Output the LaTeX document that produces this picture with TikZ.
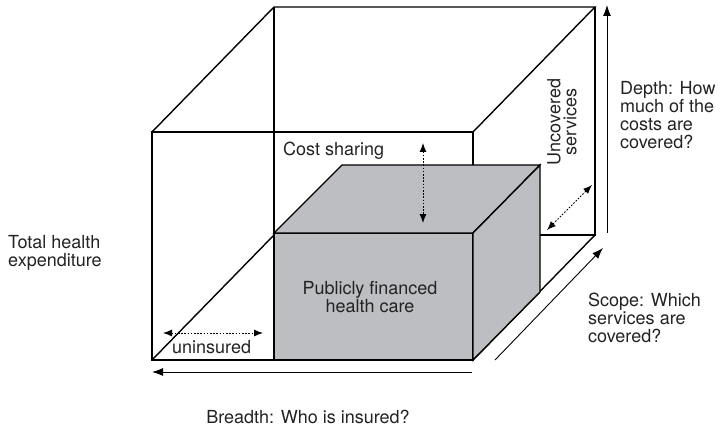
\documentclass[tikz,border=0pt]{standalone}
\usepackage{fontspec}
\setmainfont{TeX Gyre Heros}
\usepackage{xcolor}
\usepackage{tikz}
\usetikzlibrary{arrows.meta, positioning}
\definecolor{boxgray}{RGB}{189,190,194}
\definecolor{inkgray}{RGB}{35,35,35}

\begin{document}
\begin{tikzpicture}[x=1pt, y=-1pt,
    edge/.style={line width=1.4pt, line join=miter},
    axis/.style={line width=0.9pt, -{Latex[length=11pt, width=8pt]}},
    gap/.style={line width=0.9pt, dash pattern=on 1.6pt off 1.6pt, {Latex[length=9pt, width=7pt]}-{Latex[length=9pt, width=7pt]}},
    txt/.style={inner sep=0pt, text=inkgray, font=\fontsize{18}{18}\selectfont}]
  \useasboundingbox (0,0) rectangle (724,428);

  % Outer cube
  \coordinate (ftl) at (152,132);
  \coordinate (ftr) at (473,132);
  \coordinate (fbr) at (473,360);
  \coordinate (fbl) at (152,360);
  \coordinate (btl) at (274,7);
  \coordinate (btr) at (595,7);
  \coordinate (bbr) at (595,235);
  \coordinate (bbl) at (274,235);
  \draw[edge] (fbl) rectangle (ftr);
  \draw[edge] (ftl) -- (btl) -- (btr) -- (ftr);
  \draw[edge] (btl) -- (bbl) -- (bbr) -- (btr);
  \draw[edge] (fbl) -- (bbl);
  \draw[edge] (fbr) -- (bbr);

  % Inner cube
  \coordinate (itl) at (274,233);
  \coordinate (itr) at (473,233);
  \coordinate (ibr) at (473,360);
  \coordinate (ibtl) at (342,165);
  \coordinate (ibtr) at (540,165);
  \coordinate (ibbr) at (540,292);
  \filldraw[edge, fill=boxgray] (itl) rectangle (ibr);
  \filldraw[edge, fill=boxgray] (itl) -- (ibtl) -- (ibtr) -- (itr) -- cycle;
  \filldraw[edge, fill=boxgray] (itr) -- (ibtr) -- (ibbr) -- (ibr) -- cycle;

  % Axes
  \coordinate (depthlow) at (607,233);
  \coordinate (depthhigh) at (607,5);
  \coordinate (scopelow) at (495,360);
  \coordinate (scopehigh) at (603,248);
  \coordinate (breadthright) at (472,372);
  \coordinate (breadthleft) at (152,372);
  \draw[axis] (depthlow) -- (depthhigh);
  \draw[axis] (scopelow) -- (scopehigh);
  \draw[axis] (breadthright) -- (breadthleft);

  % Gaps
  \coordinate (costtop) at (423,143);
  \coordinate (costbot) at (423,223);
  \coordinate (uncovlow) at (547,230);
  \coordinate (uncovhigh) at (592,185);
  \coordinate (uninsleft) at (163,333);
  \coordinate (uninsright) at (263,333);
  \draw[gap] (costtop) -- (costbot);
  \draw[gap] (uncovlow) -- (uncovhigh);
  \draw[gap] (uninsleft) -- (uninsright);

  % Labels
  \node[txt, anchor=north west, align=left] (total) at (8,235) {Total health\\expenditure};
  \node[txt, anchor=base west] (cost) at (283,156) {Cost sharing};
  \node[txt, rotate=90, align=center, font=\fontsize{18}{16}\selectfont] (uncov) at (562,122) {Uncovered\\services};
  \node[txt, anchor=north west, align=left] (depth) at (620,81) {Depth: How\\much of the\\costs are\\covered?};
  \node[txt, anchor=north, align=center] (public) at (370,281) {Publicly financed\\health care};
  \node[txt, anchor=base west] (unins) at (172,353) {uninsured};
  \node[txt, anchor=north west, align=left] (scope) at (588,293) {Scope: Which\\services are\\covered?};
  \node[txt, anchor=base] (breadth) at (308,423) {Breadth: Who is insured?};
\end{tikzpicture}
\end{document}
